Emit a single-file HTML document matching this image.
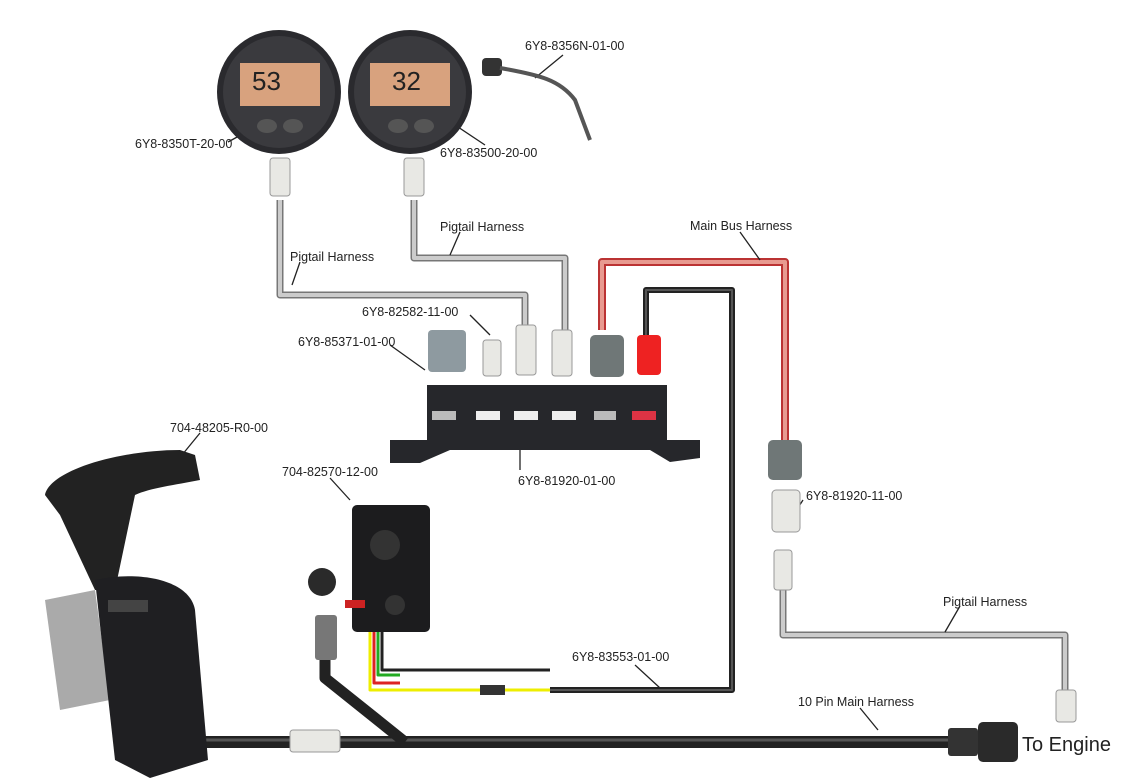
<!DOCTYPE html>
<html><head><meta charset="utf-8"><style>
body{margin:0;background:#fff}
svg{display:block}
text{font-family:"Liberation Sans",sans-serif;font-size:12.5px;fill:#222}
</style></head><body>
<svg width="1146" height="783" viewBox="0 0 1146 783" xmlns="http://www.w3.org/2000/svg">
<g fill="none" stroke-linejoin="round">
<path d="M280 200 V295 H525 V325" stroke="#777" stroke-width="7"/>
<path d="M280 200 V295 H525 V325" stroke="#ccc" stroke-width="4"/>
<path d="M414 200 V258 H565 V330" stroke="#777" stroke-width="7"/>
<path d="M414 200 V258 H565 V330" stroke="#ccc" stroke-width="4"/>
<path d="M602 330 V262 H785 V440" stroke="#b33" stroke-width="8"/>
<path d="M602 330 V262 H785 V440" stroke="#e89a90" stroke-width="4"/>
<path d="M646 335 V290 H732 V690 H550" stroke="#222" stroke-width="6"/>
<path d="M646 335 V290 H732 V690 H550" stroke="#555" stroke-width="2"/>
<path d="M783 590 V635 H1065 V690" stroke="#777" stroke-width="7"/>
<path d="M783 590 V635 H1065 V690" stroke="#ccc" stroke-width="4"/>
<path d="M205 742 H960" stroke="#222" stroke-width="12"/>
<path d="M205 740 H960" stroke="#555" stroke-width="3"/>
<path d="M325 660 V678 L405 742" stroke="#222" stroke-width="11"/>
<path d="M370 632 V690 H545" stroke="#ee0" stroke-width="3"/>
<path d="M374 632 V683 H400" stroke="#d22" stroke-width="3"/>
<path d="M378 632 V675 H400" stroke="#2a2" stroke-width="3"/>
<path d="M382 632 V670 H550" stroke="#222" stroke-width="3"/>
<path d="M410 690 H550" stroke="#ee0" stroke-width="3"/>
</g>
<g stroke="#222" stroke-width="1.3">
<line x1="250" y1="130" x2="228" y2="142"/>
<line x1="455" y1="125" x2="485" y2="145"/>
<line x1="563" y1="55" x2="535" y2="78"/>
<line x1="300" y1="262" x2="292" y2="285"/>
<line x1="460" y1="232" x2="450" y2="255"/>
<line x1="740" y1="232" x2="760" y2="260"/>
<line x1="470" y1="315" x2="490" y2="335"/>
<line x1="390" y1="345" x2="425" y2="370"/>
<line x1="520" y1="470" x2="520" y2="445"/>
<line x1="200" y1="433" x2="182" y2="455"/>
<line x1="330" y1="478" x2="350" y2="500"/>
<line x1="803" y1="500" x2="790" y2="520"/>
<line x1="960" y1="606" x2="945" y2="632"/>
<line x1="635" y1="665" x2="660" y2="688"/>
<line x1="860" y1="708" x2="878" y2="730"/>
</g>
<g>
<circle cx="279" cy="92" r="62" fill="#2a2a2e"/><circle cx="279" cy="92" r="56" fill="#3a3a3e"/>
<rect x="240" y="63" width="80" height="43" fill="#d8a27e"/>
<text x="252" y="90" style="font-size:26px;fill:#222">53</text>
<ellipse cx="267" cy="126" rx="10" ry="7" fill="#555"/><ellipse cx="293" cy="126" rx="10" ry="7" fill="#555"/>
<circle cx="410" cy="92" r="62" fill="#2a2a2e"/><circle cx="410" cy="92" r="56" fill="#3a3a3e"/>
<rect x="370" y="63" width="80" height="43" fill="#d8a27e"/>
<text x="392" y="90" style="font-size:26px;fill:#222">32</text>
<ellipse cx="398" cy="126" rx="10" ry="7" fill="#555"/><ellipse cx="424" cy="126" rx="10" ry="7" fill="#555"/>
</g>
<rect x="482" y="58" width="20" height="18" rx="4" fill="#333"/>
<path d="M500 68 C540 75 560 80 575 100 L590 140" stroke="#555" stroke-width="4" fill="none"/>
<g fill="#e8e8e4" stroke="#999">
<rect x="270" y="158" width="20" height="38" rx="3"/>
<rect x="404" y="158" width="20" height="38" rx="3"/>
<rect x="483" y="340" width="18" height="36" rx="3"/>
<rect x="516" y="325" width="20" height="50" rx="3"/>
<rect x="552" y="330" width="20" height="46" rx="3"/>
<rect x="772" y="490" width="28" height="42" rx="4"/>
<rect x="774" y="550" width="18" height="40" rx="3"/>
<rect x="1056" y="690" width="20" height="32" rx="3"/>
<rect x="290" y="730" width="50" height="22" rx="3"/>
</g>
<rect x="428" y="330" width="38" height="42" rx="4" fill="#8e9aa0"/>
<rect x="590" y="335" width="34" height="42" rx="5" fill="#6f7777"/>
<rect x="637" y="335" width="24" height="40" rx="4" fill="#e22"/>
<rect x="768" y="440" width="34" height="40" rx="5" fill="#6f7777"/>
<path d="M390 440 H427 V385 H667 V440 H700 V458 L670 462 L650 450 H450 L420 463 H390 Z" fill="#26272b"/>
<g>
<rect x="432" y="411" width="24" height="9" fill="#bbb"/>
<rect x="476" y="411" width="24" height="9" fill="#eee"/>
<rect x="514" y="411" width="24" height="9" fill="#eee"/>
<rect x="552" y="411" width="24" height="9" fill="#eee"/>
<rect x="594" y="411" width="22" height="9" fill="#bbb"/>
<rect x="632" y="411" width="24" height="9" fill="#d34"/>
</g>
<!-- throttle -->
<path d="M45 495 C50 470 120 450 180 450 L195 455 L200 480 C175 485 150 488 135 495 L115 590 L95 590 L60 515 Z" fill="#222"/>
<path d="M45 600 L95 590 L110 700 L60 710 Z" fill="#aaa"/>
<path d="M95 580 C140 570 190 580 195 610 L208 760 L150 778 L115 760 Z" fill="#1f1f22"/>
<rect x="108" y="600" width="40" height="12" fill="#444"/>
<rect x="352" y="505" width="78" height="127" rx="5" fill="#1c1c1e"/>
<circle cx="385" cy="545" r="15" fill="#333"/>
<circle cx="395" cy="605" r="10" fill="#333"/>
<rect x="345" y="600" width="20" height="8" fill="#c22"/>
<circle cx="322" cy="582" r="14" fill="#2a2a2a"/>
<rect x="315" y="615" width="22" height="45" rx="3" fill="#777"/>
<rect x="948" y="728" width="30" height="28" rx="3" fill="#333"/>
<rect x="978" y="722" width="40" height="40" rx="5" fill="#2a2a2a"/>
<rect x="480" y="685" width="25" height="10" fill="#333"/>
<text x="525" y="50">6Y8-8356N-01-00</text>
<text x="135" y="148">6Y8-8350T-20-00</text>
<text x="440" y="157">6Y8-83500-20-00</text>
<text x="440" y="231">Pigtail Harness</text>
<text x="290" y="261">Pigtail Harness</text>
<text x="690" y="230">Main Bus Harness</text>
<text x="362" y="316">6Y8-82582-11-00</text>
<text x="298" y="346">6Y8-85371-01-00</text>
<text x="518" y="485">6Y8-81920-01-00</text>
<text x="170" y="432">704-48205-R0-00</text>
<text x="282" y="476">704-82570-12-00</text>
<text x="806" y="500">6Y8-81920-11-00</text>
<text x="943" y="606">Pigtail Harness</text>
<text x="572" y="661">6Y8-83553-01-00</text>
<text x="798" y="706">10 Pin Main Harness</text>
<text x="1022" y="751" style="font-size:20px">To Engine</text>
</svg>
</body></html>
